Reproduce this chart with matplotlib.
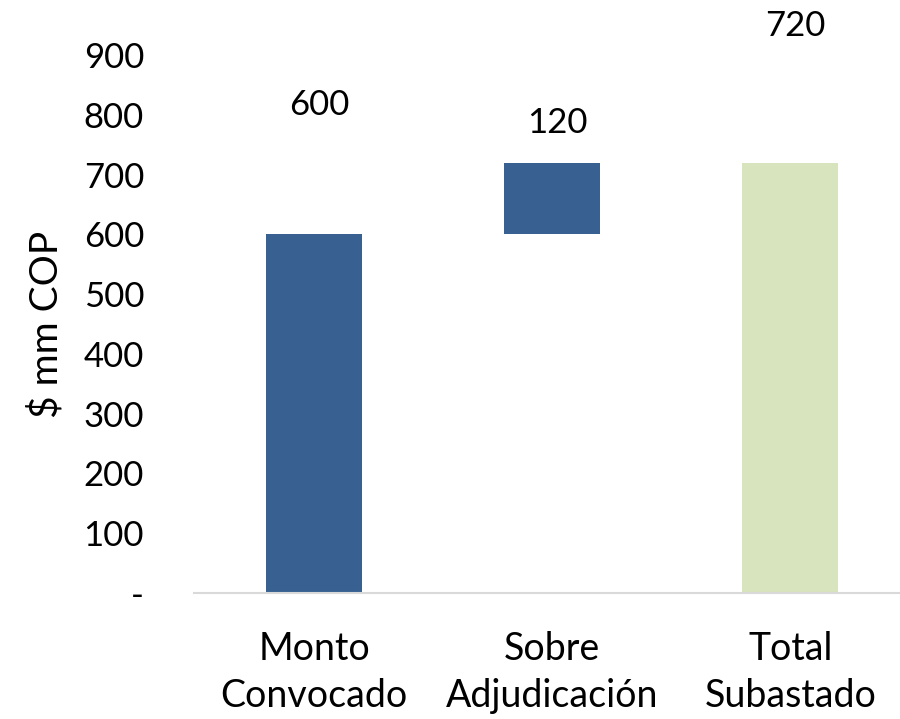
import matplotlib
matplotlib.use("Agg")
import matplotlib.pyplot as plt

categories = ["Monto\nConvocado", "Sobre\nAdjudicación", "Total\nSubastado"]
bar_bottoms = [0, 600, 0]
bar_heights = [600, 120, 720]
value_labels = ["600", "120", "720"]
label_heights = [816, 786, 948]
y_ticks = [0, 100, 200, 300, 400, 500, 600, 700, 800, 900]
y_tick_labels = ["-", "100", "200", "300", "400", "500", "600", "700", "800", "900"]

BLUE = "#386192"
GREEN = "#D8E4BD"
AXIS_GRAY = "#D9D9D9"

plt.rcParams["font.family"] = ["Lato", "DejaVu Sans"]

fig = plt.figure(figsize=(9, 7.19), dpi=100)
ax = fig.add_axes([0.2156, 0.1752, 0.7844, 0.7483])

colors = [BLUE, BLUE, GREEN]
positions = list(range(len(categories)))
ax.bar(positions, bar_heights, bottom=bar_bottoms, width=0.403, color=colors, zorder=2)

for pos, txt, h in zip(positions, value_labels, label_heights):
    ax.text(pos + 0.02, h, txt, ha="center", va="center", fontsize=25, clip_on=False)

ax.set_xlim(-0.504, 2.46)
ax.set_ylim(0, 900)
ax.set_yticks(y_ticks)
ax.set_yticklabels(y_tick_labels, fontsize=25)
ax.set_xticks(positions)
ax.set_xticklabels(categories, fontsize=27, linespacing=1.4)
ax.tick_params(axis="y", length=0, pad=36)
ax.tick_params(axis="x", length=0, pad=27)

for side in ["top", "right", "left"]:
    ax.spines[side].set_visible(False)
ax.spines["bottom"].set_color(AXIS_GRAY)
ax.spines["bottom"].set_linewidth(1.5)

ax.set_ylabel("$ mm COP", fontsize=28, labelpad=14)

fig.savefig("out.png", dpi=100)
